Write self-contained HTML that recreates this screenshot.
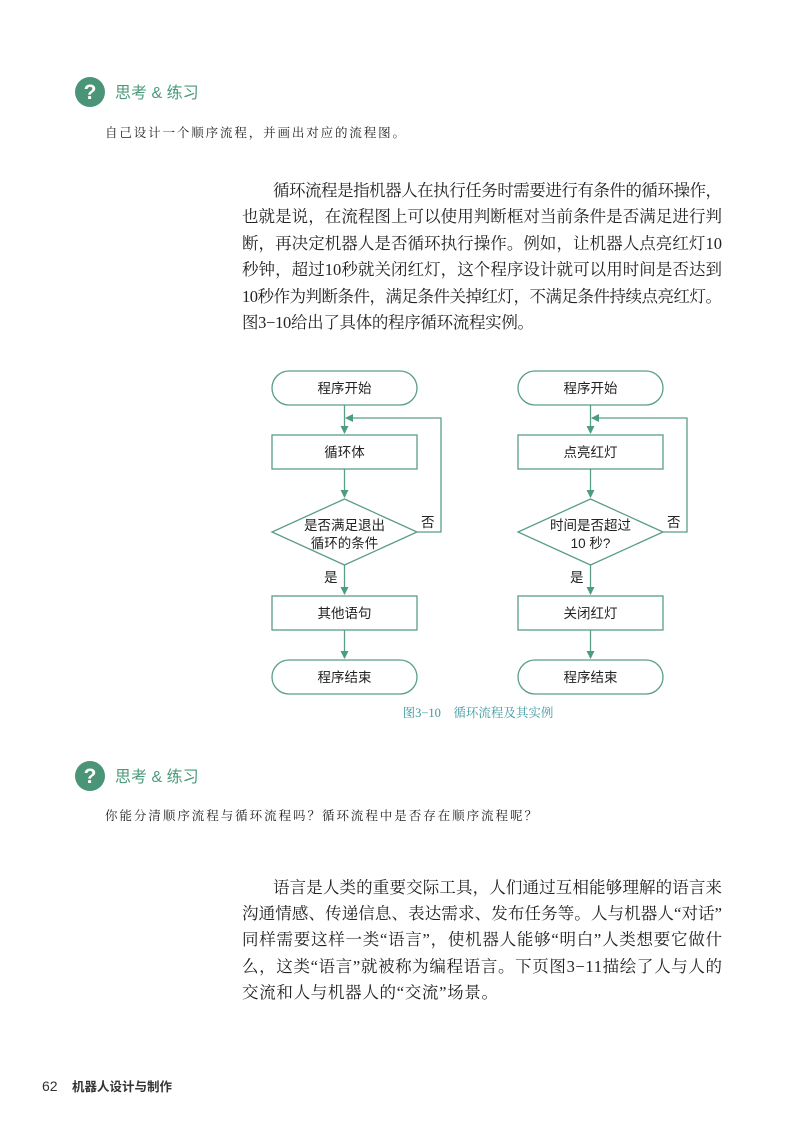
<!DOCTYPE html>
<html><head><meta charset="utf-8"><style>
html,body{margin:0;padding:0;background:#fff}
svg{display:block}
.s{font-family:"Liberation Serif","Noto Serif CJK SC",serif;font-size:16.5px;fill:#222}
.k{font-family:"Liberation Sans","Noto Sans CJK SC",sans-serif;font-size:13.5px;fill:#222}
.q{font-family:"Liberation Serif","Noto Serif CJK SC",serif;font-size:12.5px;fill:#222}
.h{font-family:"Liberation Sans","Noto Sans CJK SC",sans-serif;font-size:16px;fill:#4a9a7a}
</style></head><body>
<svg width="793" height="1122" viewBox="0 0 793 1122" xmlns="http://www.w3.org/2000/svg">
<defs><marker id="a" markerWidth="8" markerHeight="8" refX="7" refY="4" orient="auto" markerUnits="userSpaceOnUse"><path d="M0,0 L8,4 L0,8 z" fill="#4e9c7f"/></marker></defs>
<!-- header 1 -->
<circle cx="90" cy="92" r="15" fill="#4a9477"/>
<text x="90" y="99" text-anchor="middle" font-family="Liberation Sans" font-weight="bold" font-size="21" fill="#fff">?</text>
<text class="h" x="115" y="98">思考 &amp; 练习</text>
<text class="q" x="105" y="137" textLength="300">自己设计一个顺序流程，并画出对应的流程图。</text>
<!-- para 1 -->
<text class="s" x="273" y="196" textLength="449">循环流程是指机器人在执行任务时需要进行有条件的循环操作，</text>
<text class="s" x="242" y="222" textLength="480">也就是说，在流程图上可以使用判断框对当前条件是否满足进行判</text>
<text class="s" x="242" y="249" textLength="480">断，再决定机器人是否循环执行操作。例如，让机器人点亮红灯10</text>
<text class="s" x="242" y="275" textLength="480">秒钟，超过10秒就关闭红灯，这个程序设计就可以用时间是否达到</text>
<text class="s" x="242" y="302" textLength="480">10秒作为判断条件，满足条件关掉红灯，不满足条件持续点亮红灯。</text>
<text class="s" x="242" y="328" textLength="292">图3−10给出了具体的程序循环流程实例。</text>
<!-- charts -->
<g fill="none" stroke="#5a9e84" stroke-width="1.3">
<rect x="272" y="371" width="145" height="34" rx="17"/>
<rect x="272" y="435" width="145" height="34"/>
<polygon points="344.5,499 417,532 344.5,565 272,532"/>
<rect x="272" y="596" width="145" height="34"/>
<rect x="272" y="660" width="145" height="34" rx="17"/>
<line x1="344.5" y1="405" x2="344.5" y2="433" marker-end="url(#a)"/>
<line x1="344.5" y1="469" x2="344.5" y2="497" marker-end="url(#a)"/>
<line x1="344.5" y1="565" x2="344.5" y2="594" marker-end="url(#a)"/>
<line x1="344.5" y1="630" x2="344.5" y2="658" marker-end="url(#a)"/>
<polyline points="417,532 441,532 441,418 346,418" marker-end="url(#a)"/>
<rect x="518" y="371" width="145" height="34" rx="17"/>
<rect x="518" y="435" width="145" height="34"/>
<polygon points="590.5,499 663,532 590.5,565 518,532"/>
<rect x="518" y="596" width="145" height="34"/>
<rect x="518" y="660" width="145" height="34" rx="17"/>
<line x1="590.5" y1="405" x2="590.5" y2="433" marker-end="url(#a)"/>
<line x1="590.5" y1="469" x2="590.5" y2="497" marker-end="url(#a)"/>
<line x1="590.5" y1="565" x2="590.5" y2="594" marker-end="url(#a)"/>
<line x1="590.5" y1="630" x2="590.5" y2="658" marker-end="url(#a)"/>
<polyline points="663,532 687,532 687,418 592,418" marker-end="url(#a)"/>
</g>
<g class="k" text-anchor="middle">
<text class="k" x="344.5" y="393">程序开始</text>
<text class="k" x="344.5" y="457">循环体</text>
<text class="k" x="344.5" y="530">是否满足退出</text>
<text class="k" x="344.5" y="548">循环的条件</text>
<text class="k" x="344.5" y="618">其他语句</text>
<text class="k" x="344.5" y="682">程序结束</text>
<text class="k" x="590.5" y="393">程序开始</text>
<text class="k" x="590.5" y="457">点亮红灯</text>
<text class="k" x="590.5" y="530">时间是否超过</text>
<text class="k" x="590.5" y="548">10 秒?</text>
<text class="k" x="590.5" y="618">关闭红灯</text>
<text class="k" x="590.5" y="682">程序结束</text>
</g>
<text class="k" x="421" y="527">否</text>
<text class="k" x="667" y="527">否</text>
<text class="k" x="324" y="582">是</text>
<text class="k" x="570" y="582">是</text>
<text x="478" y="717" text-anchor="middle" font-family="Liberation Serif,Noto Serif CJK SC,serif" font-size="12.5" fill="#3f9aa0">图3−10　循环流程及其实例</text>
<!-- header 2 -->
<circle cx="90" cy="776" r="15" fill="#4a9477"/>
<text x="90" y="783" text-anchor="middle" font-family="Liberation Sans" font-weight="bold" font-size="21" fill="#fff">?</text>
<text class="h" x="115" y="782">思考 &amp; 练习</text>
<text class="q" x="105" y="820" textLength="432">你能分清顺序流程与循环流程吗？循环流程中是否存在顺序流程呢？</text>
<!-- para 2 -->
<text class="s" x="273" y="893" textLength="449">语言是人类的重要交际工具，人们通过互相能够理解的语言来</text>
<text class="s" x="242" y="919" textLength="480">沟通情感、传递信息、表达需求、发布任务等。人与机器人“对话”</text>
<text class="s" x="242" y="945" textLength="480">同样需要这样一类“语言”，使机器人能够“明白”人类想要它做什</text>
<text class="s" x="242" y="972" textLength="480">么，这类“语言”就被称为编程语言。下页图3−11描绘了人与人的</text>
<text class="s" x="242" y="998" textLength="256">交流和人与机器人的“交流”场景。</text>
<!-- footer -->
<text x="42" y="1091" font-family="Liberation Sans,sans-serif" font-size="14" fill="#333">62</text>
<text x="72" y="1091" font-family="Liberation Sans,Noto Sans CJK SC,sans-serif" font-size="12.5" font-weight="bold" fill="#333">机器人设计与制作</text>
</svg>
</body></html>
